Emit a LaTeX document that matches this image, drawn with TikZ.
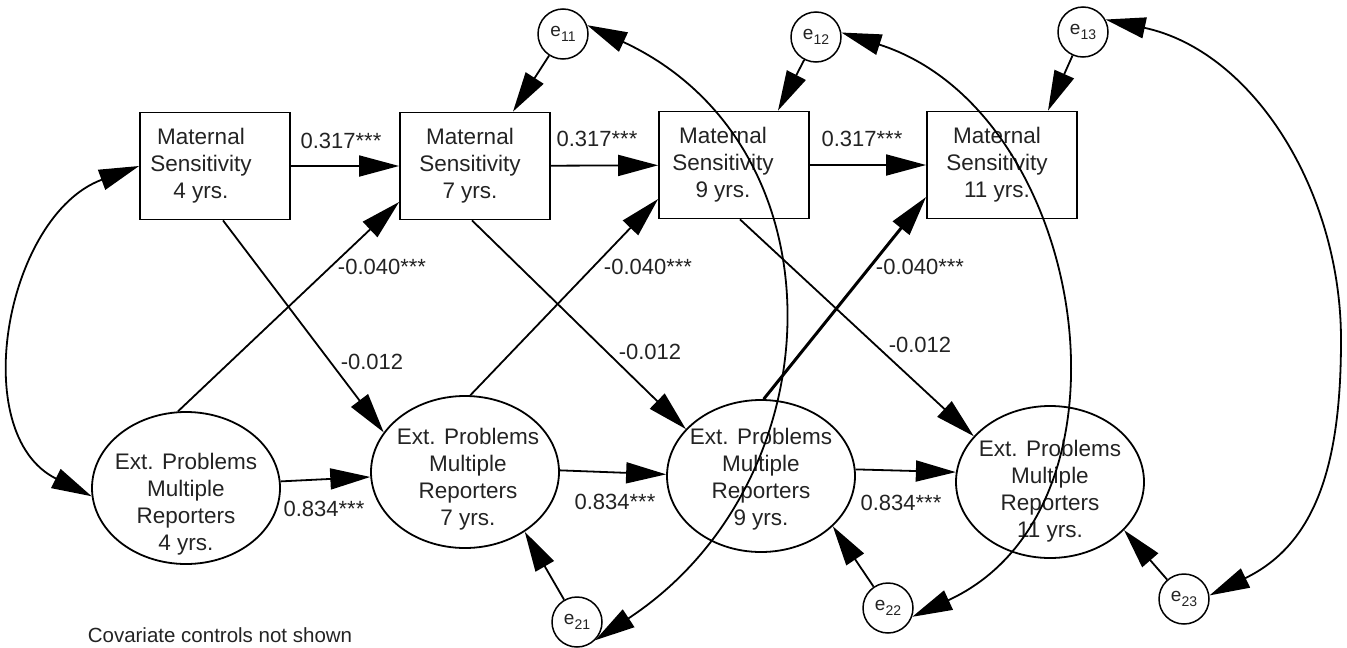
\documentclass[tikz,border=0pt]{standalone}
\usepackage{fontspec}
\setmainfont{Liberation Sans}
\usetikzlibrary{arrows.meta,shapes.geometric}
\definecolor{tc}{RGB}{35,35,35}
\begin{document}
\begin{tikzpicture}[x=1pt,y=-1pt,
  ln/.style={line width=1.8pt, draw=black},
  arr/.style={ln, -{Triangle[length=40pt,width=21pt]}},
  dbl/.style={ln, {Triangle[length=40pt,width=21pt]}-{Triangle[length=40pt,width=21pt]}},
  msbox/.style={draw, line width=1.8pt, minimum width=150pt, minimum height=107pt, inner sep=0pt},
  ell/.style={ellipse, draw, line width=1.8pt, minimum width=188pt, minimum height=152pt, inner sep=0pt},
  err/.style={circle, draw, line width=1.5pt, minimum size=50pt, inner sep=0pt, text=tc, font=\fontsize{19}{19}\selectfont},
  txt/.style={font=\fontsize{22.5}{27}\selectfont, align=center, text=tc, inner sep=0pt},
  val/.style={font=\fontsize{22}{22}\selectfont, text=tc, inner sep=0pt},
]
\useasboundingbox (0,0) rectangle (1347,648);

% Maternal sensitivity boxes
\node[msbox, label={[txt,xshift=-14pt]center:Maternal\\Sensitivity\\4 yrs.}] (ms4) at (215,166) {};
\node[msbox, label={[txt,xshift=-5pt]center:Maternal\\Sensitivity\\7 yrs.}] (ms7) at (475,166) {};
\node[msbox, label={[txt,xshift=-11pt]center:Maternal\\Sensitivity\\9 yrs.}] (ms9) at (734,165) {};
\node[msbox, label={[txt,xshift=-5pt]center:Maternal\\Sensitivity\\11 yrs.}] (ms11) at (1002,165) {};

% Externalizing problems ellipses
\node[ell, label={[txt,yshift=-16pt]center:Ext. Problems\\Multiple\\Reporters\\4 yrs.}] (ep4) at (186,488) {};
\node[ell, label={[txt,yshift=-7pt,xshift=3pt]center:Ext. Problems\\Multiple\\Reporters\\7 yrs.}] (ep7) at (465,472) {};
\node[ell, label={[txt,yshift=-3pt]center:Ext. Problems\\Multiple\\Reporters\\9 yrs.}] (ep9) at (761,476) {};
\node[ell, label={[txt,yshift=-9pt]center:Ext. Problems\\Multiple\\Reporters\\11 yrs.}] (ep11) at (1050,482) {};

% Error terms
\node[err] (e11) at (563,34) {e\raisebox{-5pt}{\fontsize{14}{14}\selectfont 11}};
\node[err] (e12) at (816,37) {e\raisebox{-5pt}{\fontsize{14}{14}\selectfont 12}};
\node[err] (e13) at (1083,32) {e\raisebox{-5pt}{\fontsize{14}{14}\selectfont 13}};
\node[err] (e21) at (577,622) {e\raisebox{-5pt}{\fontsize{14}{14}\selectfont 21}};
\node[err] (e22) at (888,608) {e\raisebox{-5pt}{\fontsize{14}{14}\selectfont 22}};
\node[err] (e23) at (1184,599) {e\raisebox{-5pt}{\fontsize{14}{14}\selectfont 23}};

% Stability paths
\draw[arr] (ms4) -- (ms7);
\draw[arr] (ms7) -- (ms9);
\draw[arr] (ms9) -- (ms11);
\draw[arr] (ep4.4) -- (ep7.183);
\draw[arr] (ep7.1) -- (ep9.179);
\draw[arr] (ep9.4) -- (ep11.174);

% Cross-lagged paths
\draw[arr] ([xshift=8pt]ms4.south) -- (ep7.154);
\draw[arr] (ep4.96) -- ([yshift=-36pt]ms7.west);
\draw[arr] ([xshift=-3pt]ms7.south) -- (ep9.148);
\draw[arr] (ep7.86) -- ([yshift=-34pt]ms9.west);
\draw[arr] ([xshift=6pt]ms9.south) -- (ep11.149);
\draw[arr, line width=3pt] (ep9.88) -- ([yshift=-32pt]ms11.west);

% Error paths
\draw[arr] (e11) -- ([xshift=38pt]ms7.north);
\draw[arr] (e12) -- ([xshift=44pt]ms9.north);
\draw[arr] (e13) -- ([xshift=46pt]ms11.north);
\draw[arr] (e21) -- (ep7.315);
\draw[arr] (e22) -- (ep9.325);
\draw[arr] (e23) -- (ep11.327);

% Covariances
\draw[dbl] (ms4.west) .. controls (6,215) and (-34,434) .. (ep4.185);
\draw[dbl] (e11.20) .. controls (847,146) and (836,482) .. (e21.315);
\draw[dbl] (e12.10) .. controls (1088,111) and (1149,508) .. (e22.340);
\coordinate (r13) at (1341,340);
\draw[dbl] (e13.29) .. controls (1253,51) and (1341,191) .. (r13) .. controls (1341,460) and (1318,543) .. (e23.8);

% Path values
\node[val] (a1) at (341,141) {0.317***};
\node[val] (a2) at (597,139) {0.317***};
\node[val] (a3) at (862,139) {0.317***};
\node[val] (b1) at (382,267) {-0.040***};
\node[val] (b2) at (648,267) {-0.040***};
\node[val] (b3) at (920,267) {-0.040***};
\node[val] (c1) at (372,362) {-0.012};
\node[val] (c2) at (650,352) {-0.012};
\node[val] (c3) at (920,345) {-0.012};
\node[val] (d1) at (324,509) {0.834***};
\node[val] (d2) at (615,502) {0.834***};
\node[val] (d3) at (901,503) {0.834***};

\node[font=\fontsize{20.5}{20.5}\selectfont, text=tc, anchor=base, inner sep=0pt] (cov) at (220,642) {Covariate controls not shown};
\end{tikzpicture}
\end{document}
